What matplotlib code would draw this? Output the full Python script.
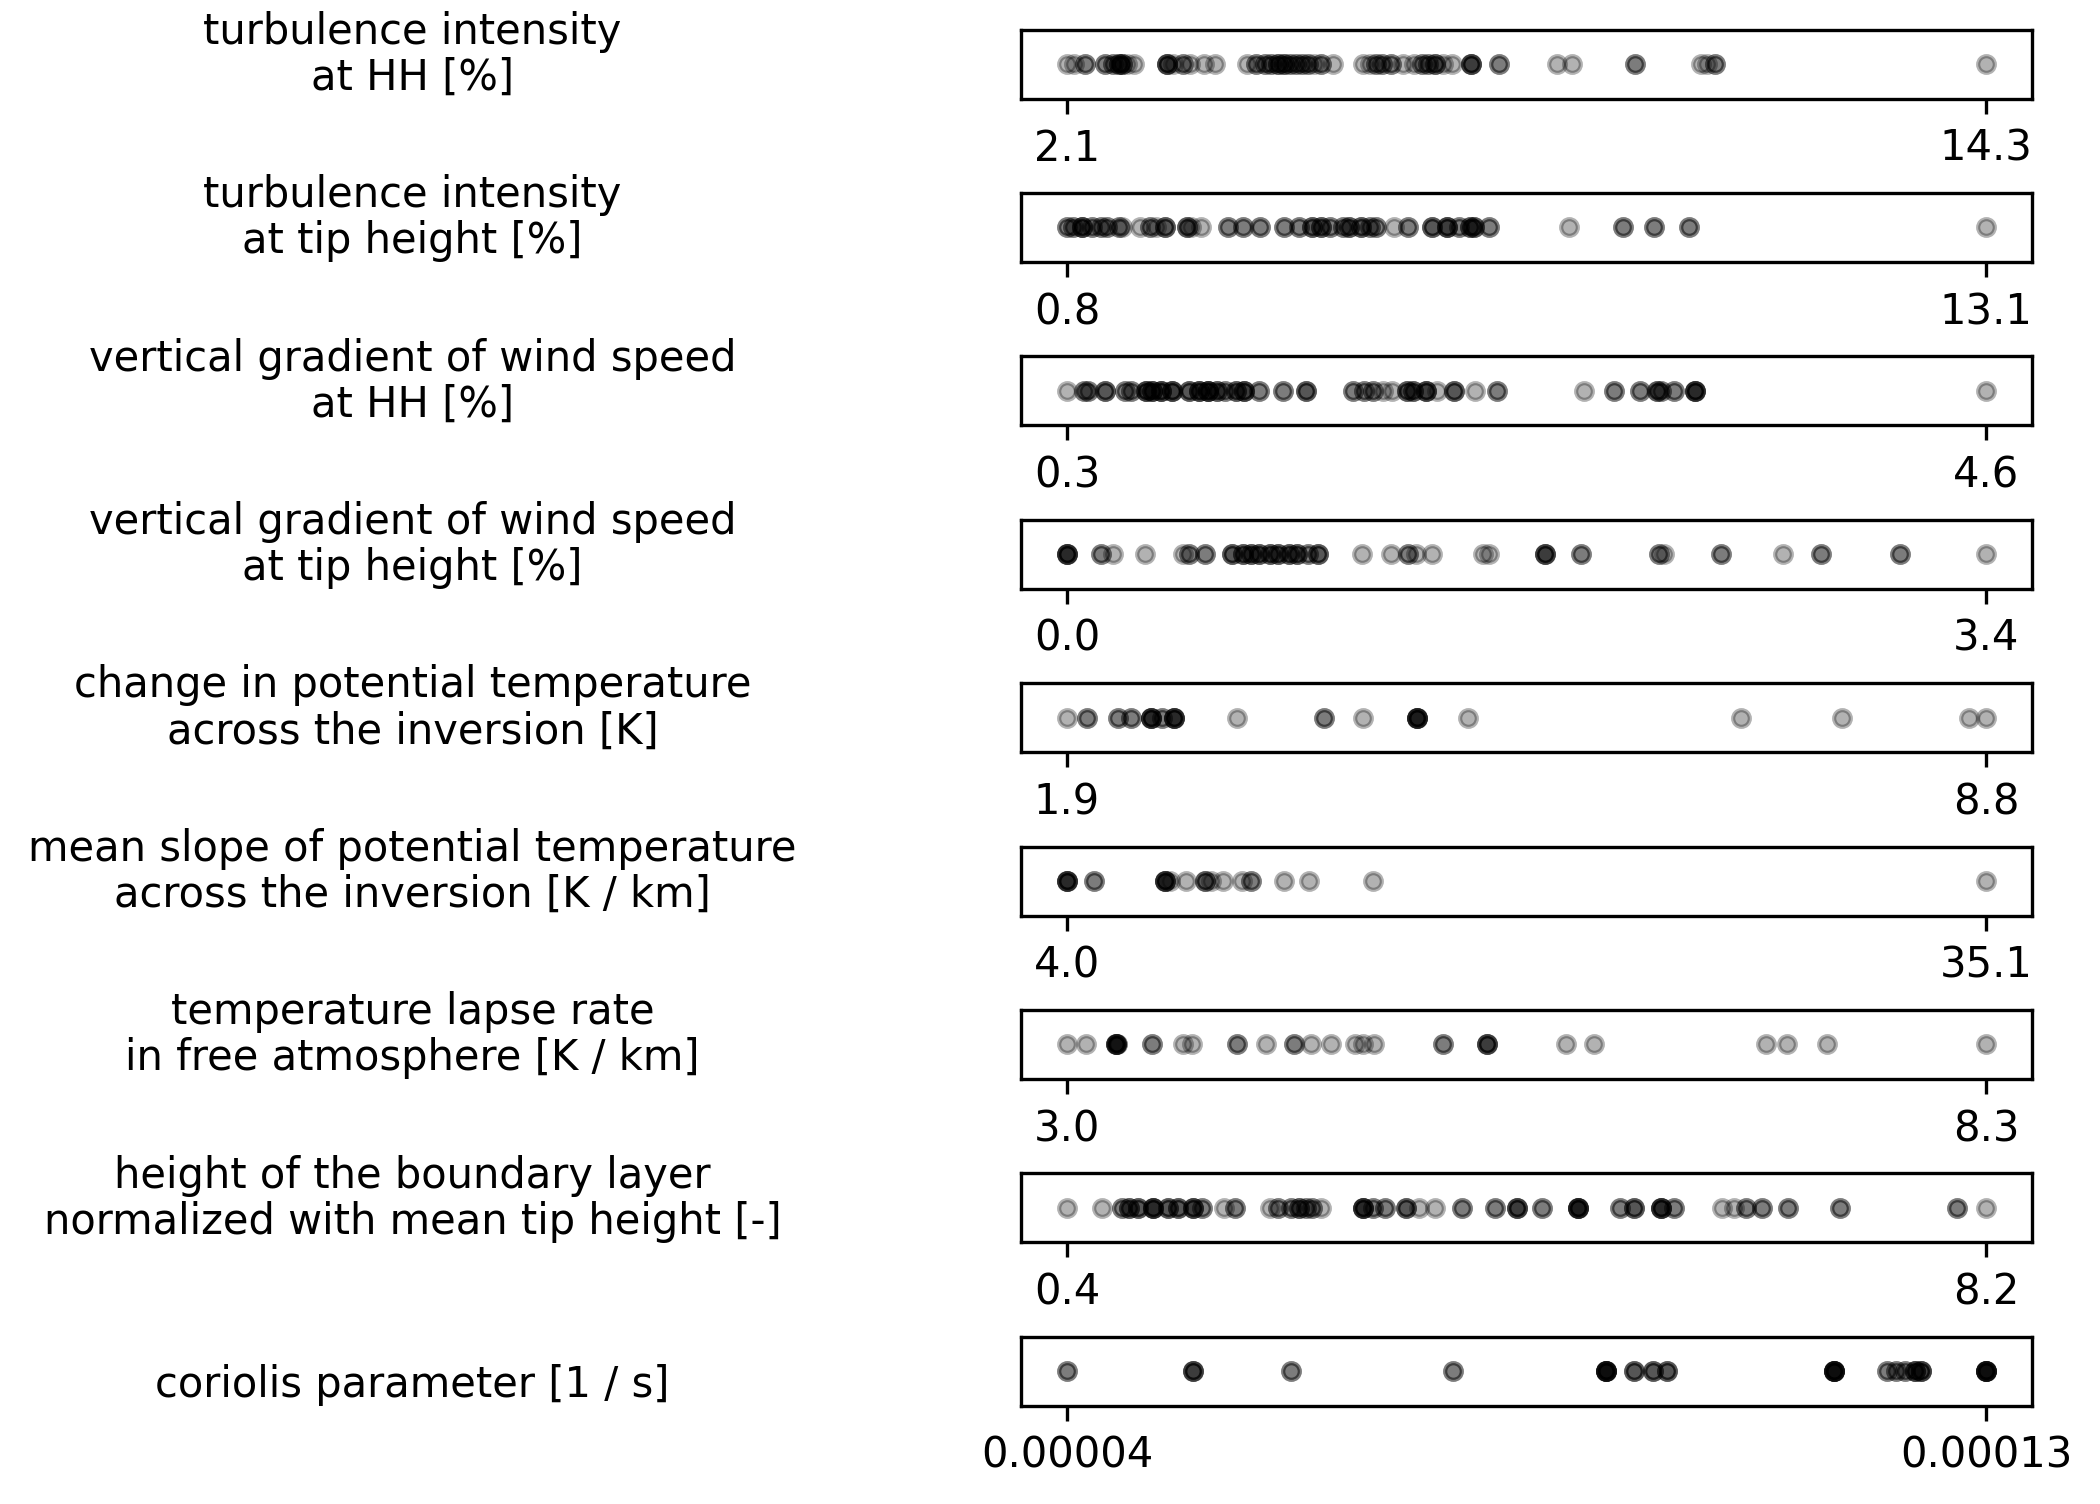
import numpy as np
import matplotlib.pyplot as plt

labels = [
    "turbulence intensity\nat HH [%]",
    "turbulence intensity\nat tip height [%]",
    "vertical gradient of wind speed\nat HH [%]",
    "vertical gradient of wind speed\nat tip height [%]",
    "change in potential temperature\nacross the inversion [K]",
    "mean slope of potential temperature\nacross the inversion [K / km]",
    "temperature lapse rate\nin free atmosphere [K / km]",
    "height of the boundary layer\nnormalized with mean tip height [-]",
    "coriolis parameter [1 / s]",
]

ti_hh = [2.1, 2.2, 2.34, 2.34, 2.60, 2.60, 2.71, 2.71, 2.79, 2.79, 2.79, 2.83, 2.83, 2.83,
         2.90, 2.99, 3.43, 3.43, 3.43, 3.43, 3.51, 3.64, 3.64, 3.73, 3.92, 4.06, 4.49,
         4.61, 4.61, 4.73, 4.73, 4.81, 4.81, 4.90, 4.90, 4.90, 4.98, 4.98, 4.98, 5.06, 5.06,
         5.14, 5.14, 5.22, 5.22, 5.30, 5.30, 5.38, 5.47, 5.47, 5.63, 6.03, 6.12, 6.20, 6.20,
         6.28, 6.28, 6.40, 6.40, 6.56, 6.71, 6.81, 6.81, 6.89, 6.89, 6.99, 6.99, 6.99, 7.09,
         7.21, 7.46, 7.46, 7.46, 7.46, 7.83, 7.83, 8.60, 8.81, 9.64, 9.64, 10.51, 10.59,
         10.70, 10.70, 14.3]

ti_tip = [0.80, 0.80, 0.88, 0.88, 1.00, 1.00, 1.00, 1.00, 1.13, 1.13, 1.25, 1.25, 1.33, 1.33,
          1.50, 1.50, 1.54, 1.78, 1.91, 1.91, 1.99, 2.11, 2.11, 2.11, 2.40, 2.40, 2.40, 2.46,
          2.59, 2.95, 2.95, 3.16, 3.16, 3.38, 3.38, 3.71, 3.71, 3.91, 3.91, 4.08, 4.08, 4.08,
          4.20, 4.20, 4.20, 4.32, 4.32, 4.49, 4.49, 4.57, 4.57, 4.57, 4.73, 4.73, 4.73, 4.86,
          4.86, 4.94, 4.94, 5.18, 5.37, 5.37, 5.68, 5.68, 5.68, 5.88, 5.88, 5.88, 5.88, 6.04,
          6.04, 6.19, 6.19, 6.19, 6.25, 6.25, 6.25, 6.45, 6.45, 7.52, 8.24, 8.24, 8.65, 8.65,
          9.12, 9.12, 13.1]

grad_hh = [0.30, 0.38, 0.38, 0.40, 0.40, 0.48, 0.48, 0.48, 0.57, 0.57, 0.60, 0.60, 0.67, 0.67,
           0.67, 0.67, 0.70, 0.70, 0.70, 0.70, 0.74, 0.74, 0.74, 0.74, 0.79, 0.79, 0.79, 0.79,
           0.87, 0.87, 0.87, 0.92, 0.92, 0.92, 0.92, 0.96, 0.96, 0.96, 0.96, 0.96, 1.00, 1.00,
           1.00, 1.04, 1.04, 1.09, 1.09, 1.09, 1.13, 1.13, 1.13, 1.13, 1.20, 1.20, 1.31, 1.31,
           1.42, 1.42, 1.42, 1.64, 1.64, 1.69, 1.69, 1.73, 1.73, 1.78, 1.82, 1.89, 1.89, 1.89,
           1.92, 1.92, 1.92, 1.98, 1.98, 1.98, 1.98, 2.03, 2.11, 2.11, 2.11, 2.21, 2.31, 2.31,
           2.72, 2.86, 2.86, 2.98, 2.98, 3.06, 3.06, 3.06, 3.08, 3.08, 3.14, 3.14, 3.24, 3.24,
           3.24, 3.24, 3.24, 4.6]

grad_tip = [0.0, 0.0, 0.0, 0.0, 0.0, 0.125, 0.125, 0.17, 0.29, 0.43, 0.45, 0.45, 0.51, 0.51,
            0.61, 0.61, 0.61, 0.65, 0.65, 0.65, 0.68, 0.68, 0.68, 0.71, 0.71, 0.71, 0.75, 0.75,
            0.75, 0.78, 0.78, 0.78, 0.82, 0.82, 0.82, 0.85, 0.85, 0.85, 0.89, 0.89, 0.93, 0.93,
            0.93, 1.09, 1.20, 1.26, 1.26, 1.29, 1.35, 1.54, 1.56, 1.77, 1.77, 1.77, 1.77, 1.90,
            1.90, 2.19, 2.19, 2.21, 2.42, 2.42, 2.65, 2.79, 2.79, 3.08, 3.08, 3.4]

dtheta = [1.90, 2.05, 2.05, 2.28, 2.28, 2.38, 2.38, 2.53, 2.53, 2.53, 2.53, 2.53, 2.61, 2.61,
          2.70, 2.70, 2.70, 2.70, 2.70, 3.18, 3.83, 3.83, 4.12, 4.53, 4.53, 4.53, 4.53, 4.53,
          4.53, 4.91, 6.96, 7.72, 8.67, 8.8]

slope = [4.0, 4.0, 4.0, 4.0, 4.0, 4.93, 4.93, 7.32, 7.32, 7.32, 7.32, 7.32, 7.48, 8.04, 8.66,
         8.66, 8.66, 8.87, 9.28, 9.91, 10.22, 10.22, 11.36, 12.18, 14.36, 35.1]

lapse = [3.0, 3.11, 3.28, 3.28, 3.28, 3.28, 3.28, 3.29, 3.29, 3.49, 3.49, 3.67, 3.72, 3.98,
         3.98, 4.15, 4.31, 4.31, 4.41, 4.52, 4.66, 4.71, 4.77, 5.17, 5.17, 5.42, 5.42, 5.42,
         5.42, 5.88, 6.04, 7.03, 7.15, 7.38, 8.3]

blh = [0.40, 0.70, 0.87, 0.87, 0.93, 0.93, 0.93, 1.00, 1.00, 1.00, 1.13, 1.13, 1.13, 1.13,
       1.13, 1.26, 1.26, 1.26, 1.34, 1.34, 1.34, 1.47, 1.47, 1.47, 1.47, 1.55, 1.55, 1.73,
       1.83, 1.83, 2.12, 2.19, 2.19, 2.30, 2.30, 2.37, 2.37, 2.37, 2.43, 2.43, 2.48, 2.48,
       2.56, 2.91, 2.91, 2.91, 2.91, 2.91, 3.00, 3.00, 3.10, 3.10, 3.28, 3.28, 3.28, 3.39,
       3.52, 3.75, 3.75, 4.03, 4.03, 4.22, 4.22, 4.22, 4.22, 4.43, 4.43, 4.74, 4.74, 4.74,
       4.74, 4.74, 4.74, 5.09, 5.09, 5.21, 5.21, 5.21, 5.44, 5.44, 5.44, 5.44, 5.44, 5.55,
       5.55, 5.96, 6.06, 6.16, 6.16, 6.30, 6.30, 6.52, 6.52, 6.96, 6.96, 7.95, 7.95, 8.2]

coriolis = [4.00e-5, 4.00e-5, 5.23e-5, 5.23e-5, 5.23e-5, 5.23e-5, 6.19e-5, 6.19e-5,
            7.78e-5, 7.78e-5, 9.28e-5, 9.28e-5, 9.28e-5, 9.28e-5, 9.28e-5, 9.28e-5,
            9.28e-5, 9.28e-5, 9.55e-5, 9.55e-5, 9.55e-5, 9.74e-5, 9.74e-5, 9.74e-5,
            9.88e-5, 9.88e-5, 9.88e-5, 1.151e-4, 1.151e-4, 1.151e-4, 1.151e-4, 1.151e-4,
            1.151e-4, 1.151e-4, 1.151e-4, 1.203e-4, 1.203e-4, 1.212e-4, 1.212e-4,
            1.221e-4, 1.221e-4, 1.230e-4, 1.230e-4, 1.230e-4, 1.230e-4, 1.236e-4,
            1.236e-4, 1.236e-4, 1.236e-4, 1.300e-4, 1.300e-4, 1.300e-4, 1.300e-4,
            1.300e-4, 1.300e-4, 1.300e-4, 1.300e-4]

tick_labels = [
    ["2.1", "14.3"],
    ["0.8", "13.1"],
    ["0.3", "4.6"],
    ["0.0", "3.4"],
    ["1.9", "8.8"],
    ["4.0", "35.1"],
    ["3.0", "8.3"],
    ["0.4", "8.2"],
    ["0.00004", "0.00013"],
]

rows = [ti_hh, ti_tip, grad_hh, grad_tip, dtheta, slope, lapse, blh, coriolis]

W, H = 2100, 1504
fig = plt.figure(figsize=(W / 300, H / 300), dpi=300)

for i, (lab, vals, ticks) in enumerate(zip(labels, rows, tick_labels)):
    top = 29.5 + 163.4 * i
    ax = fig.add_axes([1021 / W, 1 - (top + 69) / H, 1011 / W, 69 / H])
    vals = np.array(vals)
    ax.plot(vals, np.zeros_like(vals), "o", color="k", alpha=0.3, ms=4)
    ax.set_yticks([])
    ax.set_xticks([vals.min(), vals.max()])
    ax.set_xticklabels(ticks)
    fig.text(0.1965, 1 - (top + 34.5 + 35) / H, lab, ha="center", va="bottom",
             multialignment="center", linespacing=1.13)

fig.savefig("out.png", dpi=300)
